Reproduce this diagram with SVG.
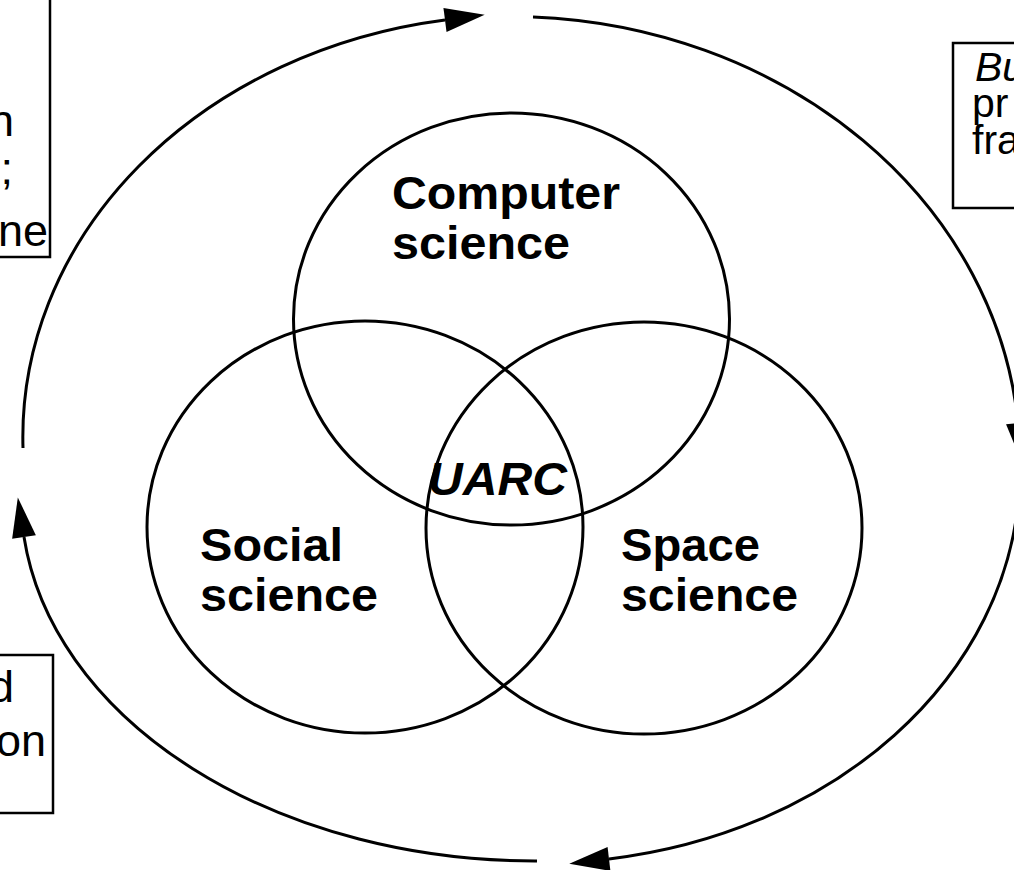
<svg xmlns="http://www.w3.org/2000/svg" width="1014" height="870" viewBox="0 0 1014 870">
<style>
.bg{fill:#fff}
.c{fill:none;stroke:#000;stroke-width:3}
.a{fill:none;stroke:#000;stroke-width:3}
.box{fill:#fff;stroke:#000;stroke-width:2.5}
.lbl{font-family:"Liberation Sans",Arial,sans-serif;font-weight:bold;font-size:47px;fill:#000}
.it{font-style:italic}
.bt{font-family:"Liberation Sans",Arial,sans-serif;font-size:45px;fill:#000}
.bt2{font-family:"Liberation Sans",Arial,sans-serif;font-size:41px;fill:#000}
</style>
<defs>
<marker id="ah" markerUnits="userSpaceOnUse" markerWidth="44" markerHeight="28" refX="0" refY="12" orient="auto" overflow="visible">
<polygon points="0,0 40,12 0,24" fill="#000"/>
</marker>
</defs>
<rect class="bg" x="0" y="0" width="1014" height="870"/>
<g id="connectors">
<path class="a" d="M 23 448 A 497 422 0 0 1 445 20" marker-end="url(#ah)"/>
<path class="a" d="M 533 17 A 510 445 0 0 1 1018 423" marker-end="url(#ah)"/>
<path class="a" d="M 1019 492 A 480 392 0 0 1 609 859" marker-end="url(#ah)"/>
<path class="a" d="M 537 861 A 514 364 0 0 1 24 537" marker-end="url(#ah)"/>
</g>
<g id="box-top-left">
<rect class="box" x="-10" y="-10" width="60" height="267"/>
<text class="bt" x="14" y="136" text-anchor="end">n</text>
<text class="bt" x="13" y="184" text-anchor="end">;</text>
<text class="bt" x="48" y="246" text-anchor="end">ne</text>
</g>
<g id="box-top-right">
<rect class="box" x="953" y="43" width="80" height="165"/>
<text class="bt2 it" x="975" y="81">Bu</text>
<text class="bt2" x="972" y="117">pr</text>
<text class="bt2" x="972" y="154">fra</text>
</g>
<g id="box-bottom-left">
<rect class="box" x="-10" y="655" width="63" height="158"/>
<text class="bt" x="14" y="702" text-anchor="end">d</text>
<text class="bt" x="46" y="756" text-anchor="end">on</text>
</g>
<g id="computer-science">
<ellipse class="c" cx="511.5" cy="319" rx="218" ry="206"/>
<text class="lbl" x="392" y="209" textLength="228" lengthAdjust="spacingAndGlyphs">Computer</text>
<text class="lbl" x="392" y="259" textLength="178" lengthAdjust="spacingAndGlyphs">science</text>
</g>
<g id="social-science">
<ellipse class="c" cx="365" cy="527" rx="218" ry="206"/>
<text class="lbl" x="200" y="561" textLength="143" lengthAdjust="spacingAndGlyphs">Social</text>
<text class="lbl" x="200" y="611" textLength="178" lengthAdjust="spacingAndGlyphs">science</text>
</g>
<g id="space-science">
<ellipse class="c" cx="644" cy="528" rx="218" ry="206"/>
<text class="lbl" x="621" y="561" textLength="139" lengthAdjust="spacingAndGlyphs">Space</text>
<text class="lbl" x="621" y="611" textLength="177" lengthAdjust="spacingAndGlyphs">science</text>
</g>
<g id="uarc">
<text class="lbl it" x="428" y="495" textLength="139" lengthAdjust="spacingAndGlyphs">UARC</text>
</g>
</svg>
